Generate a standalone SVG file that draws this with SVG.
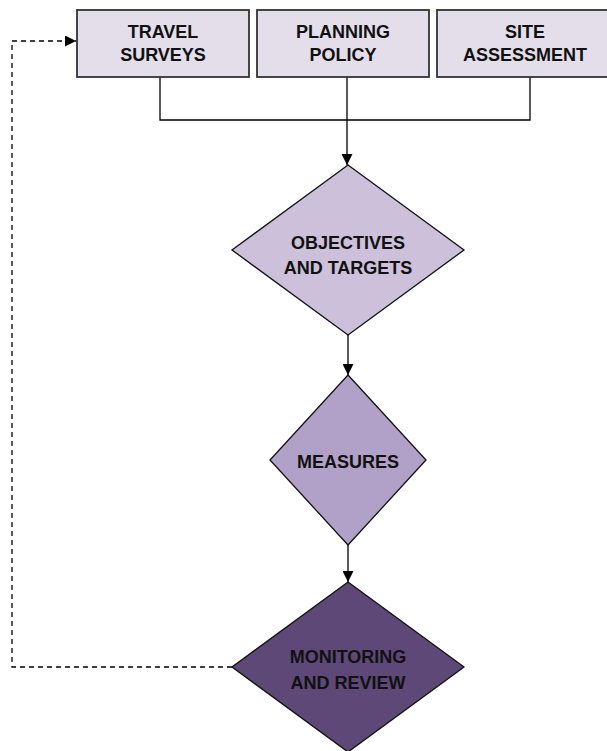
<svg xmlns="http://www.w3.org/2000/svg" width="607" height="751" viewBox="0 0 607 751">
<defs>
<style>
.box{fill:#E4DEEB;stroke:#333;stroke-width:1.8}
.t{font-family:"Liberation Sans",Arial,sans-serif;font-weight:bold;font-size:18px;fill:#111;text-anchor:middle}
.ln{fill:none;stroke:#000;stroke-width:1.3}
.dash{fill:none;stroke:#000;stroke-width:1.3;stroke-dasharray:5,4}
.dia{stroke:#111;stroke-width:1.3}
</style>
<marker id="ah" viewBox="0 0 10 10" refX="10" refY="5" markerWidth="11" markerHeight="11" markerUnits="userSpaceOnUse" orient="auto">
<path d="M0,0 L10,5 L0,10 z" fill="#000"/>
</marker>
</defs>
<g id="connectors">
<path class="ln" d="M160,77 V120 H530 V77 M347,77 V120"/>
<path class="ln" d="M347,120 V165" marker-end="url(#ah)"/>
<path class="ln" d="M348,335 V375" marker-end="url(#ah)"/>
<path class="ln" d="M348,545 V582" marker-end="url(#ah)"/>
<path class="dash" d="M232,667 H12 V41 H76" marker-end="url(#ah)"/>
</g>
<g id="travel-surveys">
<rect class="box" x="77" y="10" width="172" height="67"/>
<text class="t" x="163" y="38">TRAVEL</text>
<text class="t" x="163" y="61">SURVEYS</text>
</g>
<g id="planning-policy">
<rect class="box" x="257" y="10" width="172" height="67"/>
<text class="t" x="343" y="38">PLANNING</text>
<text class="t" x="343" y="61">POLICY</text>
</g>
<g id="site-assessment">
<rect class="box" x="437" y="10" width="172" height="67"/>
<text class="t" x="525" y="38">SITE</text>
<text class="t" x="525" y="61">ASSESSMENT</text>
</g>
<g id="objectives">
<polygon class="dia" fill="#CCC0DA" points="348,165 464,250 348,335 232,250"/>
<text class="t" x="348" y="249">OBJECTIVES</text>
<text class="t" x="348" y="274">AND TARGETS</text>
</g>
<g id="measures">
<polygon class="dia" fill="#B1A0C7" points="348,375 426,460 348,545 270,460"/>
<text class="t" x="348" y="468">MEASURES</text>
</g>
<g id="monitoring">
<polygon class="dia" fill="#5E4878" points="348,582 464,667 348,752 232,667"/>
<text class="t" x="348" y="663">MONITORING</text>
<text class="t" x="348" y="689">AND REVIEW</text>
</g>
</svg>
